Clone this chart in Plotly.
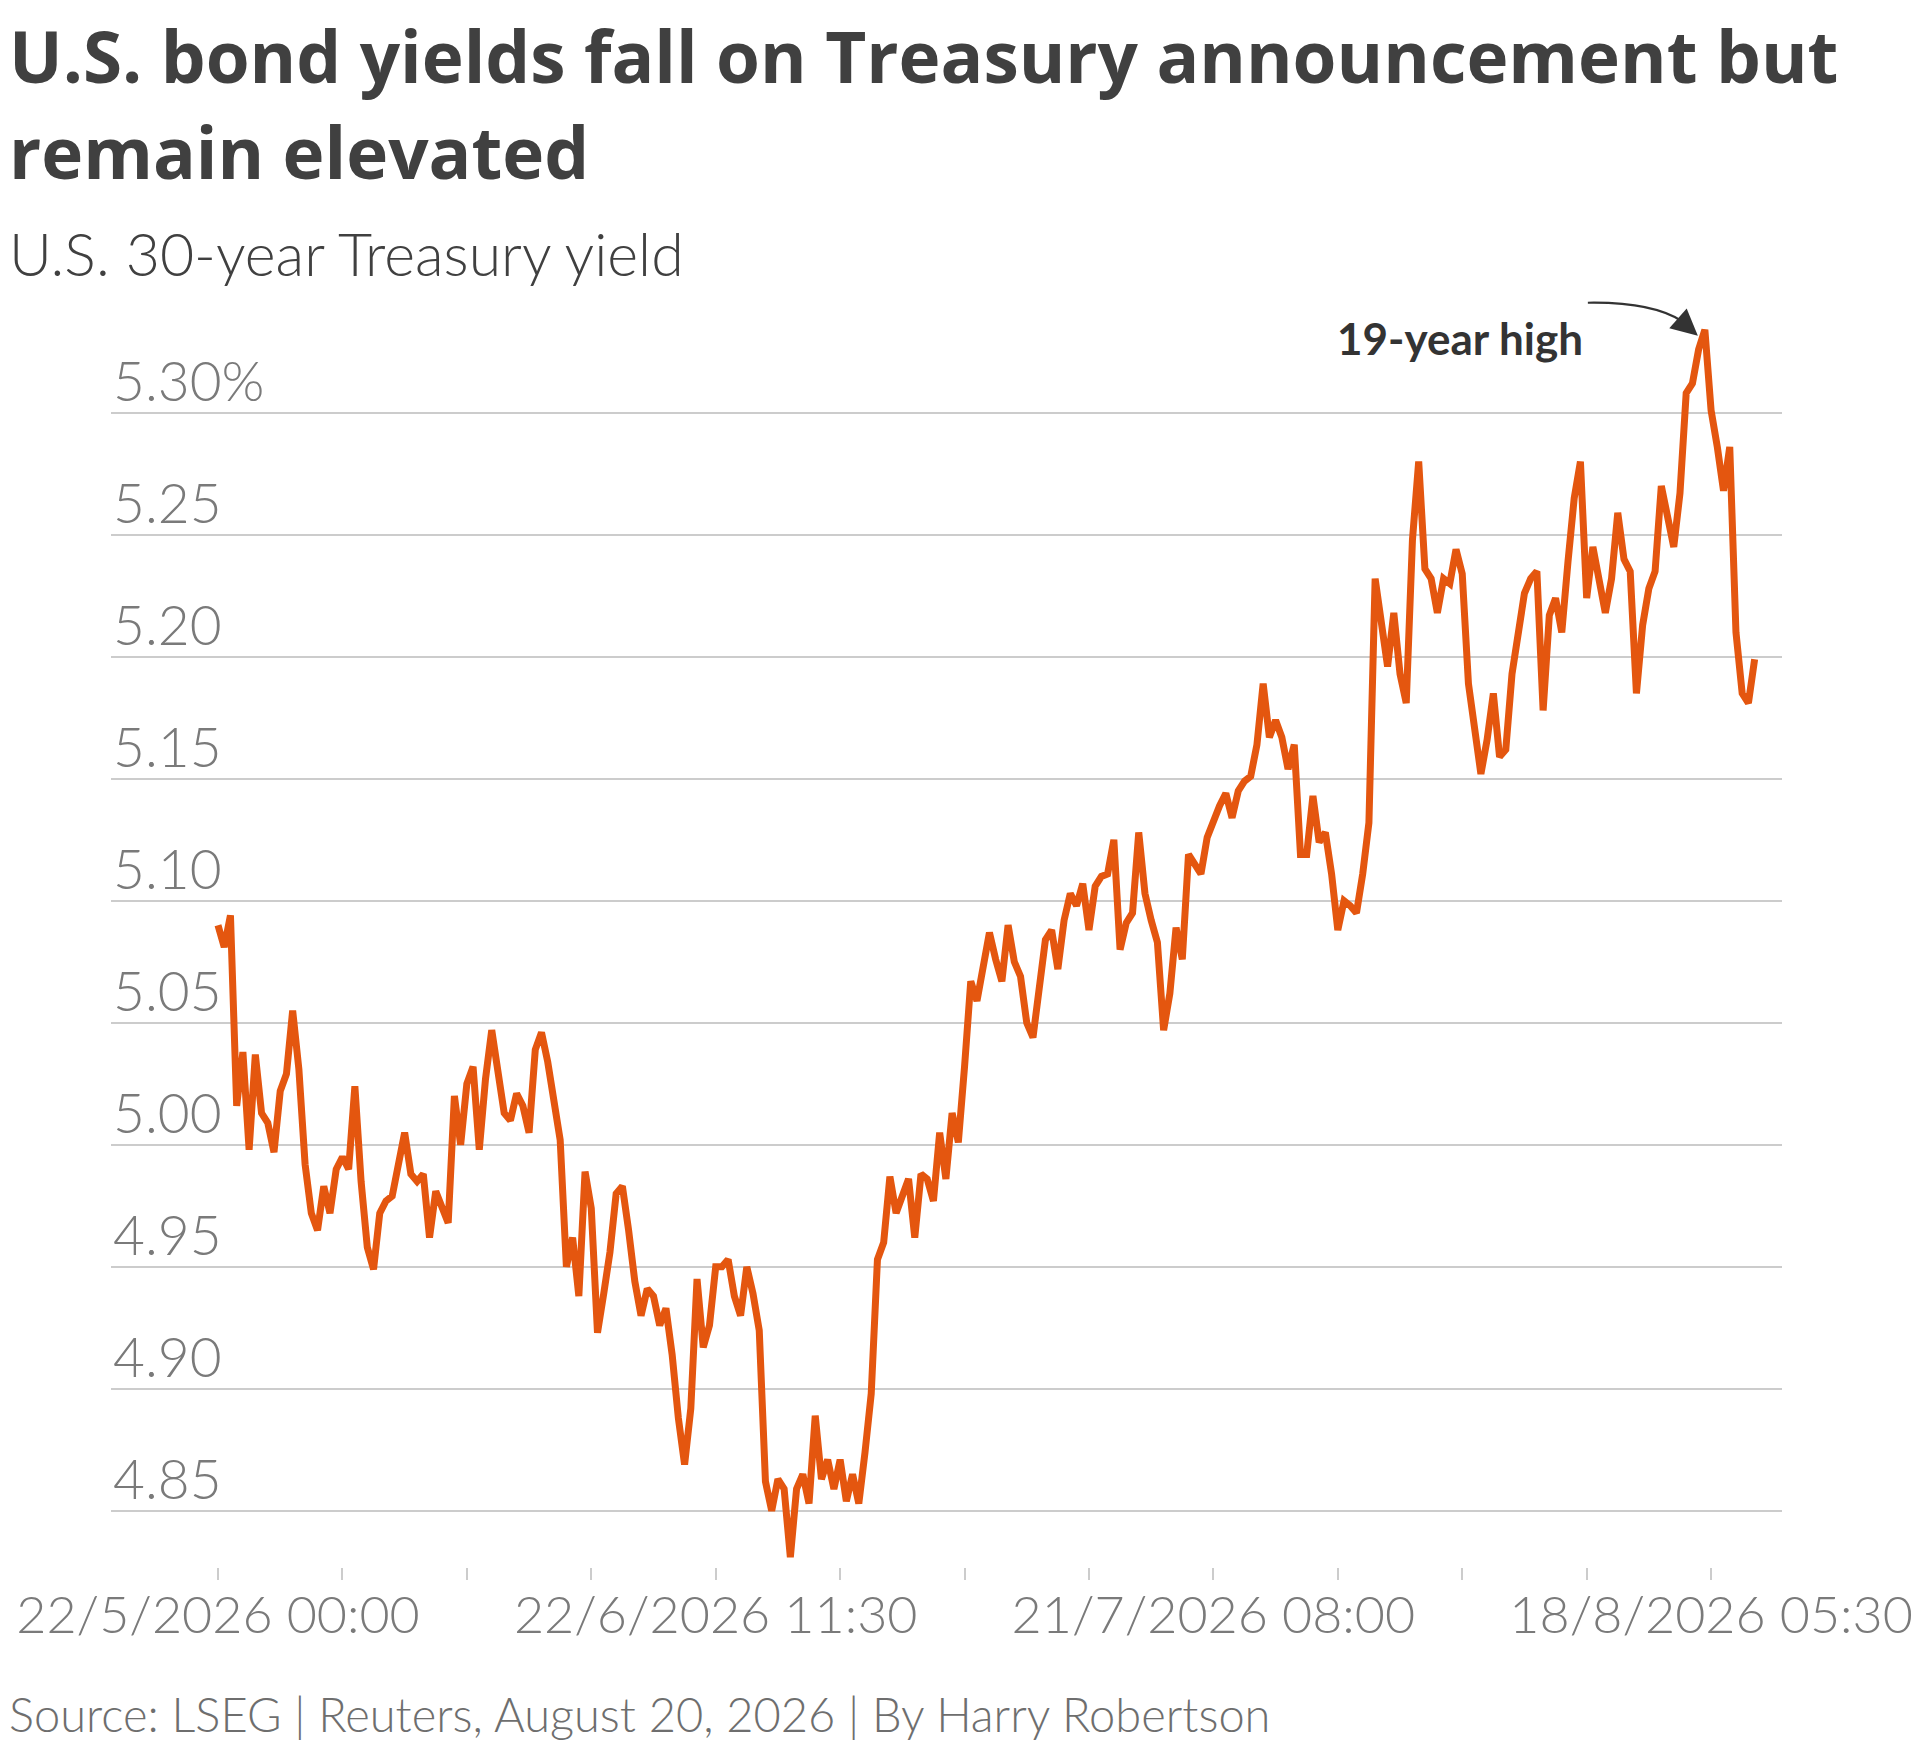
"""
U.S. 30-year Treasury yield, intraday line chart (Reuters style).
Values read off the reference chart, one reading every 1/20 of a tick interval.
"""

import plotly.graph_objects as go

# ── Texts ─────────────────────────────────────────────────────────────────────
TITLE_LINES = ["U.S. bond yields fall on Treasury announcement but",
               "remain elevated"]
SUBTITLE = "U.S. 30-year Treasury yield"
SOURCE   = "Source: LSEG | Reuters, August 20, 2026 | By Harry Robertson"
PEAK_LABEL = "19-year high"

# ── Data ──────────────────────────────────────────────────────────────────────
yield_pct = [
    5.090, 5.081, 5.094, 5.016, 5.038, 4.998, 5.037, 5.013, 5.009, 4.997,
    5.022, 5.029, 5.055, 5.031, 4.992, 4.972, 4.965, 4.983, 4.972, 4.990,
    4.995, 4.990, 5.024, 4.985, 4.958, 4.949, 4.972, 4.977, 4.979, 4.991,
    5.005, 4.988, 4.985, 4.988, 4.962, 4.981, 4.975, 4.968, 5.020, 5.000,
    5.025, 5.032, 4.998, 5.027, 5.047, 5.029, 5.013, 5.010, 5.021, 5.016,
    5.005, 5.039, 5.046, 5.034, 5.017, 5.002, 4.950, 4.962, 4.938, 4.989,
    4.974, 4.923, 4.939, 4.956, 4.980, 4.983, 4.965, 4.944, 4.930, 4.941,
    4.938, 4.926, 4.933, 4.914, 4.888, 4.869, 4.892, 4.945, 4.917, 4.926,
    4.950, 4.950, 4.953, 4.938, 4.930, 4.950, 4.939, 4.924, 4.862, 4.850,
    4.863, 4.859, 4.831, 4.859, 4.865, 4.853, 4.889, 4.863, 4.871, 4.859,
    4.871, 4.854, 4.865, 4.853, 4.874, 4.898, 4.953, 4.960, 4.987, 4.972,
    4.979, 4.986, 4.962, 4.988, 4.986, 4.977, 5.005, 4.986, 5.013, 5.001,
    5.032, 5.067, 5.059, 5.072, 5.087, 5.076, 5.067, 5.090, 5.075, 5.069,
    5.050, 5.044, 5.067, 5.084, 5.088, 5.072, 5.092, 5.103, 5.098, 5.107,
    5.088, 5.106, 5.110, 5.111, 5.125, 5.080, 5.091, 5.095, 5.128, 5.103,
    5.092, 5.083, 5.047, 5.062, 5.089, 5.076, 5.119, 5.115, 5.111, 5.126,
    5.133, 5.139, 5.144, 5.134, 5.145, 5.149, 5.151, 5.164, 5.189, 5.167,
    5.174, 5.167, 5.154, 5.164, 5.119, 5.119, 5.143, 5.124, 5.128, 5.111,
    5.088, 5.100, 5.098, 5.095, 5.111, 5.132, 5.232, 5.214, 5.196, 5.218,
    5.193, 5.181, 5.248, 5.280, 5.236, 5.232, 5.218, 5.232, 5.230, 5.244,
    5.234, 5.189, 5.170, 5.152, 5.166, 5.185, 5.159, 5.162, 5.193, 5.210,
    5.226, 5.232, 5.235, 5.178, 5.217, 5.224, 5.210, 5.239, 5.265, 5.280,
    5.224, 5.245, 5.233, 5.218, 5.232, 5.259, 5.240, 5.235, 5.185, 5.213,
    5.228, 5.235, 5.270, 5.259, 5.245, 5.267, 5.308, 5.312, 5.326, 5.334,
    5.301, 5.286, 5.268, 5.286, 5.210, 5.185, 5.181, 5.199,
]
session = list(range(len(yield_pct)))   # trading-time index

x_tick_pos  = [0, 20, 40, 60, 80, 100, 120, 140, 160, 180, 200, 220, 240]
x_tick_text = ["22/5/2026 00:00", "", "", "", "22/6/2026 11:30", "", "", "",
               "21/7/2026 08:00", "", "", "", "18/8/2026 05:30"]

y_tick_pos  = [5.30, 5.25, 5.20, 5.15, 5.10, 5.05, 5.00, 4.95, 4.90, 4.85]
y_tick_text = ["5.30%", "5.25", "5.20", "5.15", "5.10", "5.05", "5.00",
               "4.95", "4.90", "4.85"]

# ── Layout constants (page has an 8px body margin) ───────────────────────────
W, H = 1912, 1739
M_L, M_R, M_T, M_B = 103, 138, 312, 180
X_RANGE = [-17.2, 251.4]
Y_RANGE = [4.827, 5.338]
PLOT_W = W - M_L - M_R
PLOT_H = H - M_T - M_B

FONT   = "Lato"
ORANGE = "#E4560F"
DARK   = "#404040"
GREY   = "#7a7a7a"
GRID   = "#cccccc"


def px_x(px):
    """Figure pixel (from left) -> paper x."""
    return (px - M_L) / PLOT_W


def px_y(py):
    """Figure pixel (from top) -> paper y."""
    return (H - M_B - py) / PLOT_H


def near(i, v, dx, dy):
    """Paper coords of a data point shifted by a pixel offset (dy positive = down)."""
    px = (i - X_RANGE[0]) / (X_RANGE[1] - X_RANGE[0]) + dx / PLOT_W
    py = (v - Y_RANGE[0]) / (Y_RANGE[1] - Y_RANGE[0]) - dy / PLOT_H
    return px, py


fig = go.Figure()

fig.add_trace(go.Scatter(
    x=session, y=yield_pct, mode="lines",
    line=dict(color=ORANGE, width=7),
    hoverinfo="skip", showlegend=False,
))

# ── Y labels sit on top of their gridlines, left aligned ─────────────────────
for val, txt in zip(y_tick_pos, y_tick_text):
    fig.add_annotation(
        x=0, y=val, xref="paper", yref="y", text=txt, showarrow=False,
        xanchor="left", yanchor="bottom", yshift=-2,
        font=dict(family=FONT, size=55, color=GREY, weight=300),
    )

# ── Peak annotation with curved arrow ────────────────────────────────────────
i_peak = max(session, key=lambda i: yield_pct[i])
v_peak = yield_pct[i_peak]

sx, sy = near(i_peak, v_peak, -117, -27)
cx, cy = near(i_peak, v_peak, -52, -28)
bx, by = near(i_peak, v_peak, -22, -8)
fig.add_shape(
    type="path", xref="paper", yref="paper",
    path=f"M {sx},{sy} Q {cx},{cy} {bx},{by}",
    line=dict(color="#333333", width=2.2),
)
fig.add_annotation(
    x=i_peak, y=v_peak, xref="x", yref="y", text="",
    showarrow=True, arrowhead=2, arrowsize=2.4, arrowwidth=2.2,
    arrowcolor="#333333", ax=-16, ay=-14, xshift=-7, yshift=-6,
)
fig.add_annotation(
    x=i_peak, y=v_peak, xref="x", yref="y", text=f"<b>{PEAK_LABEL}</b>",
    showarrow=False, xanchor="right", yanchor="middle",
    xshift=-120, yshift=-8,
    font=dict(family=FONT, size=44, color="#333333"),
)

# ── Title, subtitle and source line ──────────────────────────────────────────
for line, bottom in zip(TITLE_LINES, [97, 193]):
    fig.add_annotation(
        xref="paper", yref="paper", x=px_x(0), y=px_y(bottom),
        xanchor="left", yanchor="bottom", text=f"<b>{line}</b>", showarrow=False,
        borderpad=0, font=dict(family="Open Sans", size=71, color=DARK),
    )
fig.add_annotation(
    xref="paper", yref="paper", x=px_x(0), y=px_y(282.5),
    xanchor="left", yanchor="bottom", text=SUBTITLE, showarrow=False,
    borderpad=0, font=dict(family=FONT, size=59, color=DARK, weight=300),
)
fig.add_annotation(
    xref="paper", yref="paper", x=px_x(0), y=px_y(1735),
    xanchor="left", yanchor="bottom", text=SOURCE, showarrow=False,
    borderpad=0, font=dict(family=FONT, size=47, color="#6e6e6e", weight=300),
)

fig.update_layout(
    width=W, height=H,
    margin=dict(l=M_L, r=M_R, t=M_T, b=M_B, autoexpand=False),
    paper_bgcolor="white", plot_bgcolor="white",
    xaxis=dict(
        range=X_RANGE, showgrid=False, zeroline=False, showline=False,
        automargin=False, ticklabeloverflow="allow",
        tickmode="array", tickvals=x_tick_pos, ticktext=x_tick_text,
        ticks="outside", ticklen=12, tickwidth=2, tickcolor=GRID,
        ticklabelstandoff=-9,
        tickfont=dict(family=FONT, size=52, color=GREY, weight=300),
    ),
    yaxis=dict(
        range=Y_RANGE, showgrid=True, gridcolor=GRID, gridwidth=2,
        zeroline=False, showline=False, ticks="", automargin=False,
        tickmode="array", tickvals=y_tick_pos, showticklabels=False,
    ),
    showlegend=False,
)

fig.write_html("out.html")
